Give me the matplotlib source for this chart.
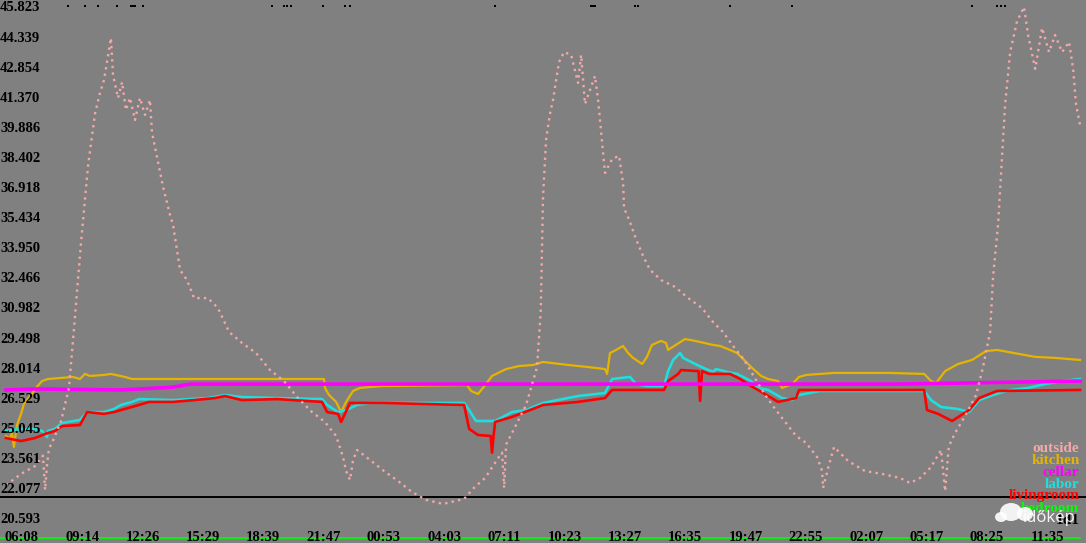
import matplotlib.pyplot as plt
from matplotlib.patches import Ellipse

# time in hours after the first tick (06:08 on day one)
tick_labels = ['06:08', '09:14', '12:26', '15:29', '18:39', '21:47', '00:53', '04:03', '07:11',
               '10:23', '13:27', '16:35', '19:47', '22:55', '02:07', '05:17', '08:25', '11:35']
tick_step = 3.133

y_ticks = [45.823, 44.339, 42.854, 41.370, 39.886, 38.402, 36.918, 35.434, 33.950,
           32.466, 30.982, 29.498, 28.014, 26.529, 25.045, 23.561, 22.077, 20.593]

outside_t = [-0.83, -0.05, 0.68, 1.09, 1.20, 1.30, 1.40, 1.56, 2.03, 2.44, 2.70, 3.07, 3.43, 3.79,
             4.05, 4.26, 4.62, 4.73, 4.99, 5.20, 5.40, 5.61, 5.87, 6.13, 6.39, 6.65, 6.75, 6.96,
             7.33, 7.69, 7.85, 8.21, 8.57, 8.94, 9.66, 10.18, 10.76, 11.43, 12.16, 12.89, 13.61,
             14.34, 15.07, 15.74, 16.32, 16.68, 16.84, 17.04, 17.20, 17.41, 18.08, 18.81, 19.54,
             20.26, 20.99, 21.88, 22.97, 23.48, 24.06, 24.78, 24.94, 25.05, 25.15, 25.46, 26.19,
             26.76, 26.95, 27.07, 27.23, 27.43, 27.59, 27.90, 28.16, 28.53, 28.89, 29.05, 29.25,
             29.77, 29.93, 30.14, 30.29, 30.66, 31.02, 31.23, 31.28, 31.59, 31.90, 32.27, 32.63,
             33.20, 33.93, 34.61, 35.33, 35.90, 36.42, 36.94, 37.52, 38.04, 38.61, 39.13, 39.65,
             40.22, 40.74, 41.31, 41.57, 41.62, 41.90, 42.19, 42.92, 43.80, 44.69, 45.62, 46.14,
             46.66, 47.23, 47.75, 47.96, 48.15, 48.48, 49.00, 49.57, 49.93, 50.30, 50.45, 50.71,
             50.92, 51.08, 51.34, 51.70, 52.06, 52.27, 52.64, 53.00, 53.36, 53.67, 54.04, 54.40,
             54.61, 54.76, 54.97]
outside_v = [22.30, 22.85, 23.24, 23.75, 22.06, 23.30, 24.10, 24.38, 25.46, 27.09, 30.00, 34.29,
             38.03, 40.60, 41.63, 42.27, 44.34, 42.52, 41.39, 42.17, 40.79, 41.39, 40.30, 41.39,
             40.55, 41.29, 39.71, 38.72, 37.00, 35.62, 35.12, 32.91, 32.41, 31.52, 31.52, 31.03,
             29.85, 29.31, 28.81, 27.97, 27.43, 26.59, 25.90, 25.41, 24.72, 23.68, 22.99, 22.55,
             23.54, 24.03, 23.54, 22.99, 22.50, 21.96, 21.57, 21.37, 21.62, 22.16, 22.65, 23.69,
             23.90, 22.16, 24.30, 24.87, 26.25, 28.12, 30.83, 36.50, 39.36, 40.60, 41.29, 43.16,
             43.65, 43.51, 42.13, 43.51, 41.09, 42.47, 41.29, 39.22, 37.69, 38.38, 38.53, 37.19,
             35.96, 35.27, 34.43, 33.59, 32.91, 32.41, 32.07, 31.52, 31.03, 30.34, 29.85, 29.16,
             28.47, 27.63, 26.74, 26.05, 25.41, 24.72, 24.38, 23.68, 22.99, 22.16, 23.20, 24.18,
             23.49, 22.99, 22.85, 22.65, 22.40, 22.65, 23.19, 24.03, 22.00, 24.20, 24.87, 25.71,
             26.74, 28.12, 29.85, 32.56, 35.12, 38.52, 41.09, 43.65, 45.18, 45.87, 44.49, 42.82,
             44.84, 43.65, 44.49, 43.65, 44.15, 42.82, 41.09, 40.05]

kitchen_t = [-0.83, -0.62, -0.52, -0.42, -0.26, -0.05, 0.10, 0.47, 0.73, 1.04, 1.35, 2.65, 3.01,
             3.27, 3.53, 4.26, 4.62, 5.35, 5.72, 15.69, 15.74, 15.95, 16.32, 16.58, 16.84, 17.20,
             17.56, 18.65, 23.12, 23.33, 23.69, 23.95, 24.42, 25.15, 25.82, 26.55, 27.07, 27.95,
             28.89, 29.41, 30.29, 30.40, 30.55, 30.86, 31.23, 31.49, 31.75, 32.22, 32.47, 32.73,
             33.20, 33.46, 33.57, 33.72, 34.45, 34.97, 35.90, 36.27, 36.79, 37.15, 37.52, 37.88,
             38.40, 38.76, 39.28, 39.49, 40.01, 40.37, 40.74, 42.19, 45.05, 46.87, 47.23, 47.49,
             47.96, 48.63, 49.36, 50.09, 50.66, 50.97, 51.54, 52.64, 53.67, 54.97]
kitchen_v = [24.72, 24.60, 24.87, 24.18, 25.26, 25.81, 26.30, 26.74, 27.09, 27.43, 27.53, 27.63,
             27.53, 27.78, 27.68, 27.73, 27.78, 27.63, 27.53, 27.53, 27.09, 26.74, 26.40, 25.90,
             26.40, 26.94, 27.09, 27.18, 27.23, 26.94, 26.79, 27.09, 27.68, 28.02, 28.17, 28.22,
             28.37, 28.27, 28.17, 28.12, 28.02, 27.78, 28.81, 28.96, 29.16, 28.81, 28.57, 28.27,
             28.62, 29.21, 29.41, 29.31, 28.96, 29.06, 29.50, 29.41, 29.21, 29.16, 28.96, 28.81,
             28.47, 28.12, 27.68, 27.53, 27.43, 27.09, 27.28, 27.63, 27.73, 27.83, 27.83, 27.78,
             27.43, 27.33, 27.92, 28.27, 28.47, 28.91, 28.96, 28.91, 28.81, 28.62, 28.57, 28.47]

cellar_t = [-0.83, 0.68, 5.14, 7.85, 8.73, 11.43, 15.07, 18.65, 25.82, 35.23, 45.62, 54.97]
cellar_v = [26.99, 27.04, 26.99, 27.13, 27.28, 27.28, 27.28, 27.28, 27.28, 27.28, 27.28, 27.43]

labor_t = [-0.83, -0.05, 0.68, 1.04, 1.30, 1.35, 1.71, 2.08, 3.01, 3.38, 4.26, 4.78, 5.14, 5.72,
           6.08, 7.85, 9.66, 10.55, 11.43, 13.25, 15.59, 15.85, 16.42, 16.84, 17.41, 18.08, 22.97,
           23.23, 23.59, 24.58, 25.46, 26.19, 27.07, 28.89, 30.29, 30.66, 31.59, 31.90, 32.47,
           33.36, 33.57, 33.83, 34.19, 34.35, 34.97, 35.54, 35.90, 36.06, 36.63, 37.15, 37.88,
           38.24, 38.76, 39.49, 40.01, 40.37, 41.46, 45.05, 46.87, 47.23, 47.75, 48.63, 49.21,
           49.73, 50.45, 51.34, 52.27, 53.15, 54.04, 54.97]
labor_v = [24.97, 25.07, 25.07, 24.97, 24.67, 24.97, 25.07, 25.36, 25.51, 25.90, 25.90, 26.05,
           26.25, 26.40, 26.54, 26.49, 26.59, 26.74, 26.64, 26.59, 26.54, 26.25, 25.90, 26.00,
           26.25, 26.35, 26.35, 26.00, 25.46, 25.46, 25.90, 26.00, 26.35, 26.69, 26.84, 27.53,
           27.63, 27.28, 27.18, 27.18, 27.92, 28.47, 28.81, 28.57, 28.27, 28.02, 27.88, 28.02,
           27.88, 27.78, 27.43, 27.09, 26.99, 26.59, 26.49, 26.74, 26.94, 26.94, 26.94, 26.49,
           26.15, 26.05, 25.90, 26.49, 26.74, 26.99, 27.09, 27.28, 27.43, 27.53]

living_t = [-0.83, -0.05, 0.68, 1.20, 1.71, 2.08, 3.01, 3.38, 4.26, 4.78, 5.14, 6.08, 6.60, 7.85,
            8.94, 10.03, 10.55, 11.43, 13.25, 15.59, 15.85, 16.42, 16.58, 17.04, 18.65, 22.97,
            23.23, 23.69, 24.35, 24.42, 24.50, 24.58, 25.46, 26.40, 27.07, 28.89, 30.29, 30.66,
            33.36, 33.57, 34.09, 34.24, 35.15, 35.23, 35.33, 35.70, 36.79, 37.31, 37.88, 38.24,
            39.28, 40.22, 40.37, 46.87, 47.02, 47.60, 48.32, 49.21, 49.73, 50.66, 54.97]
living_v = [24.62, 24.47, 24.62, 24.82, 24.97, 25.21, 25.26, 25.90, 25.81, 25.90, 26.00, 26.25,
            26.40, 26.40, 26.49, 26.59, 26.69, 26.49, 26.54, 26.40, 25.90, 25.81, 25.41, 26.35,
            26.35, 26.25, 25.07, 24.77, 24.72, 23.90, 24.72, 25.41, 25.66, 26.00, 26.25, 26.40,
            26.59, 26.99, 26.99, 27.43, 27.78, 27.97, 27.92, 26.45, 27.92, 27.78, 27.78, 27.53,
            27.18, 26.99, 26.40, 26.59, 26.99, 26.99, 26.00, 25.81, 25.46, 26.00, 26.59, 26.94,
            26.99]

bedroom_t = [-1.14, 54.97]
bedroom_v = [19.69, 19.69]

minimum_line = 21.71

event_t = [2.39, 3.27, 3.95, 4.94, 5.66, 5.77, 5.87, 6.29, 12.99, 13.61, 13.77, 13.98, 15.64,
           16.78, 17.04, 24.58, 29.56, 29.67, 29.77, 31.85, 32.01, 36.79, 40.01, 49.36, 50.66,
           50.87, 51.08]
event_level = 45.92

colors = {
    'outside': '#f4a8a8',
    'kitchen': '#e6b400',
    'cellar': '#ff00ff',
    'labor': '#20dede',
    'livingroom': '#ff0000',
    'bedroom': '#00ff00',
}

fig = plt.figure(figsize=(10.86, 5.43), dpi=100)
ax = fig.add_axes([0, 0, 1, 1])
ax.set_facecolor('#808080')
ax.set_xlim(-1.143, 55.28)
ax.set_ylim(19.444, 46.217)
ax.set_xticks([])
ax.set_yticks([])
for s in ax.spines.values():
    s.set_visible(False)

ax.axhline(minimum_line, color='black', lw=1.4, zorder=2)
ax.plot(bedroom_t, bedroom_v, color=colors['bedroom'], lw=1.2, zorder=2)
ax.plot(kitchen_t, kitchen_v, color=colors['kitchen'], lw=1.6, zorder=3)
ax.plot(labor_t, labor_v, color=colors['labor'], lw=1.9, zorder=3)
ax.plot(living_t, living_v, color=colors['livingroom'], lw=1.9, zorder=4)
ax.plot(cellar_t, cellar_v, color=colors['cellar'], lw=2.6, zorder=5)
ax.plot(outside_t, outside_v, color=colors['outside'], lw=1.7, ls=(0, (1, 1.8)), zorder=6)
ax.scatter(event_t, [event_level] * len(event_t), s=1.2, marker='s', color='black', lw=0, zorder=6)

serif = ['Liberation Serif', 'DejaVu Serif']

for v in y_ticks:
    ax.text(0.0, v, f'{v:.3f}', transform=ax.get_yaxis_transform(), ha='left', va='center',
            fontsize=10.5, fontweight='bold', family=serif, color='black', zorder=7)

for i, lab in enumerate(tick_labels):
    ax.text(i * tick_step, 19.54, lab, ha='center', va='baseline',
            fontsize=10.5, fontweight='bold', family=serif, color='black', zorder=7)

legend_names = ['outside', 'kitchen', 'cellar', 'labor', 'livingroom', 'bedroom']
for i, name in enumerate(legend_names):
    ax.text(0.994, 1 - (448 + 12 * i) / 543, name, transform=ax.transAxes, ha='right',
            va='center', fontsize=11, fontweight='bold', family=serif,
            color=colors[name], zorder=7)
ax.text(0.994, 1 - 520 / 543, '1d1', transform=ax.transAxes, ha='right', va='center',
        fontsize=11, fontweight='bold', family=serif, color='black', zorder=7)

# watermark
for cx, cy, rx, ry in [(1011, 512, 11, 9), (1025, 514, 8, 7), (1001, 517, 6, 5)]:
    ax.add_patch(Ellipse((cx / 1086, 1 - cy / 543), 2 * rx / 1086, 2 * ry / 543,
                         transform=ax.transAxes, color='white', alpha=0.9, lw=0, zorder=8))
ax.text(1076 / 1086, 1 - 518 / 543, 'időkép', transform=ax.transAxes, ha='right', va='center',
        fontsize=12, family=['Noto Sans', 'DejaVu Sans'], color='white', alpha=0.9, zorder=8)

fig.savefig('out.png', dpi=100, facecolor='#808080')
